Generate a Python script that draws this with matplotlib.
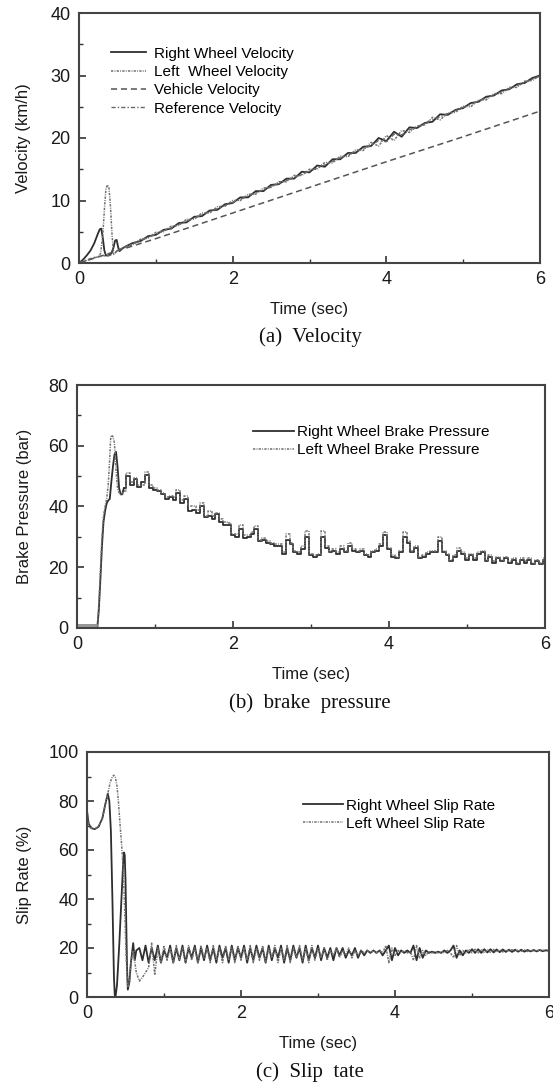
import numpy as np
import matplotlib.pyplot as plt
from matplotlib.ticker import MultipleLocator

plt.rcParams['font.family'] = ['Liberation Sans', 'DejaVu Sans']

# ---------------- (a) velocity ----------------
t_vel = np.round(np.arange(0.6, 6.0001, 0.1), 2)

t_right_early = [0, 0.05, 0.1, 0.15, 0.2, 0.24, 0.27, 0.29, 0.31, 0.33, 0.35, 0.38, 0.42, 0.45, 0.47, 0.49, 0.51, 0.53, 0.55]
v_right_early = [0, 0.5, 1.2, 2.0, 3.2, 4.5, 5.4, 5.5, 4.0, 2.0, 1.2, 1.2, 1.5, 2.5, 3.6, 3.7, 2.5, 1.9, 2.2]
v_right = [2.6, 3.2, 3.5, 4.3, 4.5, 5.3, 5.5, 6.4, 6.5, 7.4,
           7.5, 8.4, 8.5, 9.4, 9.6, 10.5, 10.5, 11.5, 11.5, 12.5,
           12.6, 13.5, 13.5, 14.6, 14.5, 15.6, 15.4, 16.6, 16.6, 17.6,
           17.6, 18.6, 18.7, 20.0, 19.5, 21.0, 20.2, 21.7, 21.6, 22.4,
           22.6, 23.8, 23.7, 24.5, 24.8, 25.6, 25.8, 26.6, 26.8, 27.6,
           27.8, 28.6, 28.8, 29.6, 30.0]

t_left_early = [0, 0.1, 0.2, 0.25, 0.28, 0.31, 0.33, 0.35, 0.37, 0.39, 0.41, 0.43, 0.45, 0.47, 0.5, 0.55]
v_left_early = [0, 0.4, 0.8, 1.0, 1.5, 4.5, 8.5, 11.8, 12.5, 12.0, 9.0, 4.5, 1.5, 1.6, 2.0, 2.3]
v_left = [2.5, 2.9, 3.8, 4.0, 4.9, 5.0, 5.9, 6.0, 7.0, 7.0,
          8.0, 8.0, 9.0, 9.1, 10.0, 10.0, 11.0, 11.0, 12.0, 12.1,
          13.0, 13.0, 14.0, 14.0, 15.0, 15.0, 16.1, 16.0, 17.1, 17.0,
          18.1, 18.0, 19.3, 18.7, 20.4, 19.6, 21.2, 20.9, 21.9, 22.1,
          23.3, 22.9, 24.0, 24.1, 25.1, 25.0, 26.1, 26.1, 27.1, 27.1,
          28.1, 28.1, 29.1, 29.2, 30.1]

t_ref_early = [0, 0.1, 0.2, 0.3, 0.4, 0.45, 0.5, 0.55]
v_ref_early = [0, 0.5, 0.9, 1.1, 1.2, 1.4, 2.0, 2.3]
v_ref = [2.6, 3.1, 3.6, 4.1, 4.6, 5.2, 5.6, 6.2, 6.7, 7.2,
         7.7, 8.2, 8.7, 9.2, 9.7, 10.2, 10.7, 11.2, 11.7, 12.2,
         12.7, 13.2, 13.7, 14.2, 14.7, 15.2, 15.7, 16.3, 16.8, 17.3,
         17.8, 18.3, 18.8, 19.6, 19.4, 20.6, 20.5, 21.3, 21.8, 22.3,
         22.9, 23.4, 23.9, 24.4, 24.9, 25.4, 25.9, 26.4, 26.9, 27.4,
         27.9, 28.4, 28.9, 29.4, 29.9]

t_vehicle = [0, 1, 2, 3, 4, 5, 6]
v_vehicle = [0, 3.9, 8.0, 12.1, 16.2, 20.2, 24.3]

# ---------------- (b) brake pressure ----------------
t_press = np.round(np.arange(0.6, 6.0001, 0.05), 2)

t_pr_right_early = [0, 0.25, 0.26, 0.28, 0.30, 0.32, 0.34, 0.36, 0.38, 0.40, 0.42, 0.44, 0.46, 0.48, 0.50, 0.52, 0.54, 0.56, 0.58, 0.6]
p_right_early = [0.9, 0.9, 0, 6, 16, 27, 35, 38.5, 41, 42, 42.5, 48, 53, 57, 58, 53, 46, 44, 44, 46]
p_right = [46, 50, 47, 49, 46.5, 48, 50.5, 46,
           45.5, 45, 44, 42.5, 43, 42, 44.5, 41, 42.5, 38.5,
           39, 38, 40, 36.5, 37, 36, 37.5, 35, 34, 34,
           30.5, 30, 32.5, 29.5, 30, 31, 32.5, 28.5, 29, 28,
           27.5, 27, 27, 24.5, 29, 27.5, 25, 24.5, 26, 30,
           24, 23.5, 24, 30, 26.5, 25, 25.5, 24.5, 26, 25,
           27, 25.5, 25, 25.5, 24, 23.5, 25, 25.5, 27, 30.5,
           26, 23.5, 23, 25, 30, 28, 25, 26.5, 23, 23.5,
           24.5, 25, 25, 28.5, 25, 24, 22, 23.5, 25.5, 24.5,
           22.5, 24, 22.5, 24.5, 25, 22, 23.5, 21.5, 23, 22,
           23, 21.5, 22.5, 21, 22.5, 21.5, 22.5, 21, 22, 21,
           22.5]

t_pr_left_early = [0, 0.25, 0.26, 0.28, 0.30, 0.32, 0.34, 0.36, 0.38, 0.40, 0.42, 0.43, 0.44, 0.46, 0.48, 0.50, 0.52, 0.54, 0.56, 0.58, 0.6]
p_left_early = [0.3, 0.3, 0, 8, 19, 30, 37, 40, 42.5, 47, 56, 62, 63.5, 63, 61, 52, 46, 44.5, 44, 44, 45]
p_left = [45, 51, 48, 49.5, 47, 47, 51.5, 47,
          46, 45.5, 44.5, 43, 43.5, 43, 45.5, 42, 43.5, 40,
          40, 39, 41, 37, 38.5, 37, 38, 36, 35, 34.5,
          31, 31, 34, 30.5, 30.5, 31.5, 33.5, 29, 29.5, 28.5,
          28, 27.5, 27.5, 25, 31, 28, 25.5, 25, 27, 32,
          24.5, 24, 24.5, 32, 27, 25.5, 26, 25, 27, 25.5,
          28, 26, 25.5, 26, 24.5, 24, 25.5, 26, 27.5, 31.5,
          26.5, 24, 23.5, 25.5, 31.5, 28.5, 25.5, 27, 23.5, 24,
          25, 25.5, 25.5, 30, 25.5, 24.5, 22.5, 24, 26.5, 25,
          23, 24.5, 23, 25, 25.5, 22.5, 24, 22, 23.5, 22.5,
          23.5, 22, 23, 21.5, 23, 22, 23, 21.5, 22.5, 21.5,
          23]

# ---------------- (c) slip rate ----------------
t_slip = np.round(np.arange(0.68, 6.0001, 0.04), 2)

t_sl_right_early = [0, 0.02, 0.05, 0.1, 0.15, 0.2, 0.24, 0.27, 0.29, 0.31, 0.33, 0.35, 0.36, 0.37, 0.39,
                    0.42, 0.45, 0.47, 0.48, 0.49, 0.50, 0.51, 0.52, 0.53, 0.55, 0.57, 0.60, 0.62, 0.64]
s_right_early = [76, 71, 69, 68.5, 69.5, 73, 79, 83, 80, 68, 40, 8, 1, 0, 5,
                 22, 42, 55, 59, 58, 48, 30, 12, 3, 6, 14, 22, 15, 19]
s_right = [20, 15, 21, 14, 20, 15, 21, 14, 19,
           16, 21, 14, 20, 15, 21, 14, 20, 16, 21, 14, 20, 15, 21, 15, 20, 14, 21, 16, 20, 14, 21, 15, 20, 16,
           21, 14, 20, 15, 21, 16, 20, 14, 21, 15, 20, 16, 21, 14, 20, 15, 21, 16, 20, 14, 21, 15, 20, 16, 21,
           15, 20, 16, 20, 15, 20, 17, 20, 16, 19, 17, 20, 16, 19, 17, 19, 18, 19, 18, 19, 17, 19, 21, 15, 20,
           17, 19, 18, 19, 18, 21, 15, 20, 16, 19, 18, 18.5, 18, 18.5, 18, 19, 18, 19, 21, 16, 19, 17, 19, 18, 19.5,
           18, 19.5, 18, 19.5, 18.2, 19.5, 18.2, 19.4, 18.3, 19.4, 18.4, 19.3, 18.4, 19.3, 18.5, 19.3, 18.5, 19.2,
           18.6, 19.2, 18.6, 19.2, 18.7, 19.1, 18.8]

t_sl_left_early = [0, 0.02, 0.05, 0.1, 0.15, 0.2, 0.24, 0.27, 0.30, 0.33, 0.35, 0.37, 0.39, 0.41, 0.43,
                   0.45, 0.47, 0.49, 0.51, 0.53, 0.55, 0.57, 0.60, 0.64]
s_left_early = [76, 71, 69, 68.5, 69.5, 73, 79, 83, 87.5, 90, 90.5, 89.5, 86, 79, 70,
                62, 52, 35, 15, 4, 6, 14, 19, 10]
s_left = [6.5, 8, 10, 12, 22, 9, 20, 14, 21,
          15, 20, 14, 21, 15, 20, 14, 21, 15, 20, 14, 21, 16, 20, 14, 21, 15, 20, 14, 21, 15, 20, 14, 21, 15,
          20, 15, 21, 14, 20, 15, 21, 14, 20, 16, 21, 14, 20, 15, 21, 14, 20, 16, 21, 15, 20, 14, 21, 15, 20,
          16, 20, 15, 19, 17, 20, 16, 19, 17, 20, 16, 19, 17, 19, 18, 19, 18, 19, 18, 19, 18, 21, 14, 20, 17,
          19, 18, 19, 18, 18.5, 15, 21, 16, 19, 17, 18.5, 18, 18.5, 18, 18.5, 18, 19, 18, 16, 21, 17, 19, 18, 19.5, 18,
          19.5, 18, 19.5, 18, 19.4, 18.2, 19.4, 18.3, 19.3, 18.4, 19.3, 18.5, 19.3, 18.5, 19.2, 18.6, 19.2, 18.6,
          19.1, 18.7, 19.1, 18.8, 19.1, 18.8, 19.0]

W, H = 553, 1084
fig = plt.figure(figsize=(W / 100, H / 100), dpi=100)


def px_axes(l, r, t, b):
    return fig.add_axes([l / W, 1 - b / H, (r - l) / W, (b - t) / H])


def style(ax, ymax, ymaj):
    ax.set_xlim(0, 6)
    ax.set_ylim(0, ymax)
    ax.xaxis.set_major_locator(MultipleLocator(2))
    ax.xaxis.set_minor_locator(MultipleLocator(1))
    ax.yaxis.set_major_locator(MultipleLocator(ymaj))
    ax.yaxis.set_minor_locator(MultipleLocator(ymaj / 2))
    ax.tick_params(which='both', direction='in', top=False, right=False,
                   colors='#333333', labelcolor='#1a1a1a')
    ax.tick_params(which='major', length=5, width=1.2, labelsize=13, pad=6)
    ax.tick_params(which='minor', length=3, width=1.0)
    for s in ax.spines.values():
        s.set_color('#444444')
        s.set_linewidth(1.5)
    ax.set_xlabel('Time (sec)', fontsize=12, color='#1a1a1a', labelpad=10)


solid = dict(color='#2e2e2e', lw=1.3)
dotted = dict(color='#707070', lw=1.1, ls=(0, (1.5, 0.8, 0.6, 0.8)))

# (a)
ax1 = px_axes(79, 540, 13, 263)
ax1.plot(np.concatenate([t_right_early, t_vel]), np.concatenate([v_right_early, v_right]),
         label='Right Wheel Velocity', **solid)
ax1.plot(np.concatenate([t_left_early, t_vel]), np.concatenate([v_left_early, v_left]),
         label='Left  Wheel Velocity', **dotted)
ax1.plot(t_vehicle, v_vehicle, color='#555555', lw=1.1, ls=(0, (4, 2.5)), label='Vehicle Velocity')
ax1.plot(np.concatenate([t_ref_early, t_vel]), np.concatenate([v_ref_early, v_ref]),
         color='#666666', lw=1.0, ls=(0, (3, 1.5, 1, 1.5)), label='Reference Velocity')
style(ax1, 40, 10)
ax1.set_ylabel('Velocity (km/h)', fontsize=12, color='#1a1a1a', labelpad=14)
ax1.legend(loc='upper left', bbox_to_anchor=(0.07, 0.865), frameon=False, fontsize=11,
           handlelength=2.3, handletextpad=0.5, labelspacing=0.28, borderpad=0, borderaxespad=0)

# (b)
ax2 = px_axes(77, 545, 385, 628)
ax2.plot(t_pr_right_early, p_right_early, label='Right Wheel Brake Pressure', **solid)
ax2.plot(t_press, p_right, drawstyle='steps-mid', **solid)
ax2.plot(t_pr_left_early, p_left_early, label='Left Wheel Brake Pressure', **dotted)
ax2.plot(t_press, p_left, drawstyle='steps-mid', **dotted)
ax2.plot([0, 0.25], [0.6, 0.6], color='#999999', lw=3.5, solid_capstyle='butt')
style(ax2, 80, 20)
ax2.set_ylabel('Brake Pressure (bar)', fontsize=12, color='#1a1a1a', labelpad=12)
ax2.legend(loc='upper left', bbox_to_anchor=(0.376, 0.835), frameon=False, fontsize=11,
           handlelength=2.7, handletextpad=0.2, labelspacing=0.28, borderpad=0, borderaxespad=0)

# (c)
ax3 = px_axes(87, 549, 752, 997)
ax3.plot(np.concatenate([t_sl_right_early, t_slip]), np.concatenate([s_right_early, s_right]),
         label='Right Wheel Slip Rate', **solid)
ax3.plot(np.concatenate([t_sl_left_early, t_slip]), np.concatenate([s_left_early, s_left]),
         label='Left Wheel Slip Rate', **dotted)
style(ax3, 100, 20)
ax3.set_ylabel('Slip Rate (%)', fontsize=12, color='#1a1a1a', labelpad=12)
ax3.legend(loc='upper left', bbox_to_anchor=(0.4675, 0.81), frameon=False, fontsize=11,
           handlelength=2.6, handletextpad=0.2, labelspacing=0.28, borderpad=0, borderaxespad=0)

# captions
for cap, y in [('(a)  Velocity', 337), ('(b)  brake  pressure', 703), ('(c)  Slip  tate', 1072)]:
    fig.text(310 / W, 1 - y / H, cap, ha='center', va='center', fontsize=15,
             family=['Liberation Serif', 'DejaVu Serif'], color='#111111')

fig.savefig('out.png', dpi=100)
